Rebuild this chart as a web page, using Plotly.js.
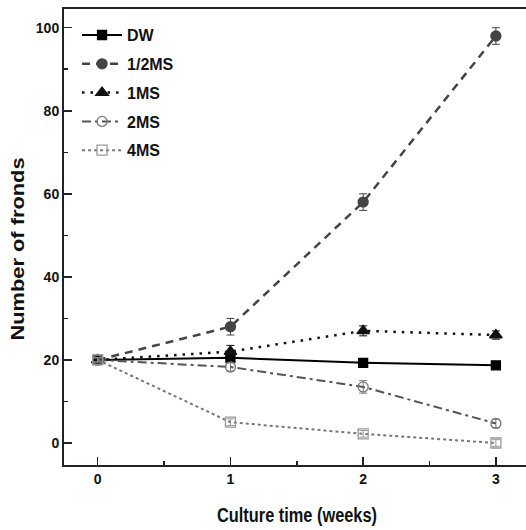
<!DOCTYPE html>
<html><head><meta charset="utf-8">
<script src="https://cdn.plot.ly/plotly-3.0.1.min.js"></script>
<style>html,body{margin:0;padding:0;overflow:hidden;background:#fff}</style>
</head><body>
<div id="chart" style="width:532px;height:530px"></div>
<script>
const weeks = [0, 1, 2, 3];
const seriesNames = ["DW", "1/2MS", "1MS", "2MS", "4MS"];
const dwValues = [20, 20.5, 19.3, 18.7];
const halfMsValues = [20, 28, 58, 98];
const oneMsValues = [20, 22, 27, 26];
const twoMsValues = [20, 18.3, 13.5, 4.7];
const fourMsValues = [20, 5, 2.2, 0];
const dwErr = [0.5, 0.6, 0.6, 0.6];
const halfMsErr = [0.5, 2, 2, 2];
const oneMsErr = [0.5, 1.5, 1.2, 1];
const twoMsErr = [0.5, 1, 1.5, 1];
const fourMsErr = [0.5, 0.8, 0.8, 0.8];
const xTicks = [0, 1, 2, 3];
const yTicks = [0, 20, 40, 60, 80, 100];

const styles = [
  {color: "#000000", mcolor: "#000000", dash: "solid", width: 2, symbol: "square", size: 9},
  {color: "#444444", mcolor: "#444444", dash: "8px,6px", width: 2.5, symbol: "circle", size: 10},
  {color: "#111111", mcolor: "#111111", dash: "2.5px,6px", width: 2.5, symbol: "triangle-up", size: 11},
  {color: "#555555", mcolor: "#777777", dash: "9px,4px,3px,4px", width: 2, symbol: "circle-open", size: 10},
  {color: "#777777", mcolor: "#999999", dash: "3px,3px", width: 2, symbol: "square-open", size: 10}
];
const allValues = [dwValues, halfMsValues, oneMsValues, twoMsValues, fourMsValues];
const allErr = [dwErr, halfMsErr, oneMsErr, twoMsErr, fourMsErr];

const traces = seriesNames.map((name, i) => ({
  x: weeks, y: allValues[i], name: name, type: "scatter", mode: "lines+markers",
  legendgroup: "g" + i,
  line: {color: styles[i].color, dash: styles[i].dash, width: styles[i].width},
  marker: {color: styles[i].mcolor, symbol: styles[i].symbol, size: styles[i].size,
           line: {color: styles[i].mcolor, width: 1.3}},
  error_y: {type: "data", array: allErr[i], visible: true, color: styles[i].mcolor, thickness: 1, width: 4}
}));

const fam = "Liberation Sans, Arial, sans-serif";
const layout = {
  width: 532, height: 530,
  margin: {l: 64, r: 2, t: 9, b: 65},
  paper_bgcolor: "#fff", plot_bgcolor: "#fff",
  font: {family: fam, color: "#111"},
  showlegend: true,
  legend: {x: 0.028, y: 0.98, xanchor: "left", yanchor: "top", bgcolor: "rgba(0,0,0,0)",
           font: {size: 16, family: fam, color: "#111", weight: "bold"},
           traceorder: "grouped", tracegroupgap: 5, itemwidth: 40},
  xaxis: {
    range: [-0.254, 3.257], tickvals: xTicks, ticktext: xTicks.map(String),
    ticks: "inside", ticklen: 8, tickwidth: 1.5, tickcolor: "#222",
    minor: {dtick: 0.5, tick0: 0, ticks: "inside", ticklen: 4, tickwidth: 1.5, tickcolor: "#222"},
    showline: true, linewidth: 2, linecolor: "#222", mirror: true,
    showgrid: false, zeroline: false,
    tickfont: {size: 14, weight: "bold", family: fam, color: "#111"},
    title: {text: "Culture time (weeks)", font: {size: 20, weight: "bold", family: fam, color: "#111"}, standoff: 22}
  },
  yaxis: {
    range: [-5.3, 104.5], tickvals: yTicks, ticktext: yTicks.map(String),
    ticks: "inside", ticklen: 8, tickwidth: 1.5, tickcolor: "#222",
    minor: {dtick: 10, tick0: 0, ticks: "inside", ticklen: 4, tickwidth: 1.5, tickcolor: "#222"},
    showline: true, linewidth: 2, linecolor: "#222", mirror: true,
    showgrid: false, zeroline: false,
    tickfont: {size: 14, weight: "bold", family: fam, color: "#111"},
    title: {text: "Number of fronds", font: {size: 19, weight: "bold", family: fam, color: "#111"}, standoff: 10}
  }
};
function condense() {
  const xt = document.querySelector("#chart .xtitle");
  if (xt) { xt.setAttribute("textLength", "160"); xt.setAttribute("lengthAdjust", "spacingAndGlyphs"); }
  const yt = document.querySelector("#chart .ytitle");
  if (yt) {
    yt.setAttribute("textLength", "183"); yt.setAttribute("lengthAdjust", "spacingAndGlyphs");
    const tr = yt.getAttribute("transform") || "";
    yt.setAttribute("transform", "translate(4,12) " + tr);
  }
}
Plotly.newPlot("chart", traces, layout, {displayModeBar: false, staticPlot: true}).then(condense);
</script>
</body></html>
